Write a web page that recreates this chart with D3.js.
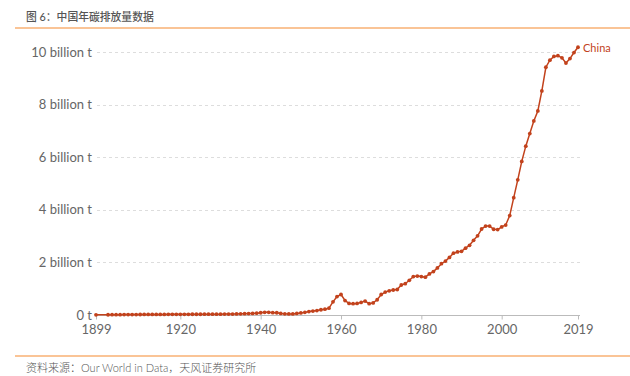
<html>
<head>
<meta charset="utf-8">
<script src="https://d3js.org/d3.v7.min.js"></script>
<style>
  body { margin: 0; background: #fff; }
  text { font-family: Lato, "Noto Sans CJK SC", sans-serif; }
</style>
</head>
<body>
<div id="chart"></div>
<script>
// years: 1899, then 1902-2019
var years = [1899].concat(d3.range(1902, 2020));

// annual CO2 emissions, billion tonnes
var emissions = [
  0.005,
  0.01, 0.012, 0.013, 0.014, 0.015, 0.016, 0.017, 0.018, 0.019,   // 1902-1910
  0.02, 0.02, 0.021, 0.022, 0.022, 0.023, 0.024, 0.024, 0.025, 0.025, // 1911-1920
  0.026, 0.027, 0.028, 0.028, 0.029, 0.03, 0.03, 0.031, 0.032, 0.033, // 1921-1930
  0.034, 0.035, 0.037, 0.04, 0.045, 0.05, 0.055, 0.06, 0.07, 0.085,   // 1931-1940
  0.1, 0.1, 0.09, 0.085, 0.06, 0.045, 0.04, 0.04, 0.06, 0.08,         // 1941-1950
  0.1, 0.13, 0.15, 0.17, 0.2, 0.22, 0.26, 0.5, 0.7, 0.78,             // 1951-1960
  0.55, 0.44, 0.43, 0.44, 0.48, 0.53, 0.43, 0.46, 0.58, 0.78,         // 1961-1970
  0.87, 0.92, 0.95, 0.97, 1.14, 1.19, 1.32, 1.46, 1.48, 1.46,         // 1971-1980
  1.44, 1.56, 1.65, 1.79, 1.95, 2.05, 2.19, 2.35, 2.4, 2.42,          // 1981-1990
  2.54, 2.65, 2.84, 3.01, 3.27, 3.38, 3.38, 3.26, 3.25, 3.35,         // 1991-2000
  3.42, 3.78, 4.46, 5.14, 5.84, 6.42, 6.9, 7.38, 7.76, 8.52,          // 2001-2010
  9.42, 9.69, 9.83, 9.86, 9.78, 9.58, 9.75, 9.98, 10.18               // 2011-2019
];

var xTicks = [1899, 1920, 1940, 1960, 1980, 2000, 2019];
var yTicks = [0, 2, 4, 6, 8, 10];
var seriesName = "China";
var title = "图 6：中国年碳排放量数据";
var source = "资料来源：Our World in Data，天风证券研究所";

var data = years.map(function(y, i) { return {year: y, value: emissions[i]}; });

var W = 630, H = 376;
var lineColor = "#c2421c";

var svg = d3.select("#chart").append("svg")
  .attr("width", W).attr("height", H);

// header
svg.append("text")
  .attr("x", 26).attr("y", 21)
  .attr("font-family", "'Noto Sans CJK SC', sans-serif")
  .attr("font-size", 10.8).attr("font-weight", 500)
  .attr("fill", "#555")
  .text(title);
svg.append("line")
  .attr("x1", 15).attr("x2", 630).attr("y1", 28).attr("y2", 28)
  .attr("stroke", "#f8b173").attr("stroke-width", 1.3);

// footer
svg.append("line")
  .attr("x1", 15).attr("x2", 630).attr("y1", 356).attr("y2", 356)
  .attr("stroke", "#f8b173").attr("stroke-width", 1.3);
svg.append("text")
  .attr("x", 26).attr("y", 372)
  .attr("font-family", "'Noto Sans CJK SC', sans-serif")
  .attr("font-size", 11).attr("font-weight", 300)
  .attr("fill", "#555")
  .text(source);

var x = d3.scaleLinear().domain([1899, 2019]).range([96, 578]);
var y = d3.scaleLinear().domain([0, 10]).range([315, 52]);

// grid
svg.append("g").selectAll("line")
  .data(yTicks.filter(function(d) { return d > 0; }))
  .enter().append("line")
    .attr("x1", 97).attr("x2", 580)
    .attr("y1", function(d) { return Math.round(y(d)) + 0.5; })
    .attr("y2", function(d) { return Math.round(y(d)) + 0.5; })
    .attr("stroke", "#ddd").attr("stroke-dasharray", "3,3");

// y labels
svg.append("g").selectAll("text")
  .data(yTicks)
  .enter().append("text")
    .attr("x", 92)
    .attr("y", function(d) { return y(d) + 4.5; })
    .attr("text-anchor", "end")
    .attr("font-size", 13)
    .attr("fill", "#666")
    .text(function(d) { return d === 0 ? "0 t" : d + " billion t"; });

// x axis
var xAxis = d3.axisBottom(x).tickValues(xTicks).tickFormat(d3.format("d"))
  .tickSize(4).tickPadding(5);
var gx = svg.append("g").attr("transform", "translate(0,315.5)").call(xAxis);
gx.select(".domain").attr("stroke", "#bbb").attr("d", "M96,0H580");
gx.selectAll(".tick line").attr("stroke", "#bbb");
gx.selectAll(".tick text").attr("font-size", 13).attr("fill", "#666")
  .attr("font-family", "Lato, sans-serif");

// line
var line = d3.line()
  .x(function(d) { return x(d.year); })
  .y(function(d) { return y(d.value); });
svg.append("path").datum(data)
  .attr("d", line)
  .attr("fill", "none")
  .attr("stroke", lineColor)
  .attr("stroke-width", 1.5);

svg.append("g").selectAll("circle")
  .data(data)
  .enter().append("circle")
    .attr("cx", function(d) { return x(d.year); })
    .attr("cy", function(d) { return y(d.value); })
    .attr("r", 1.9)
    .attr("fill", lineColor);

var last = data[data.length - 1];
svg.append("text")
  .attr("x", x(last.year) + 5)
  .attr("y", y(last.value) + 5)
  .attr("font-size", 11)
  .attr("fill", lineColor)
  .text(seriesName);
</script>
</body>
</html>
